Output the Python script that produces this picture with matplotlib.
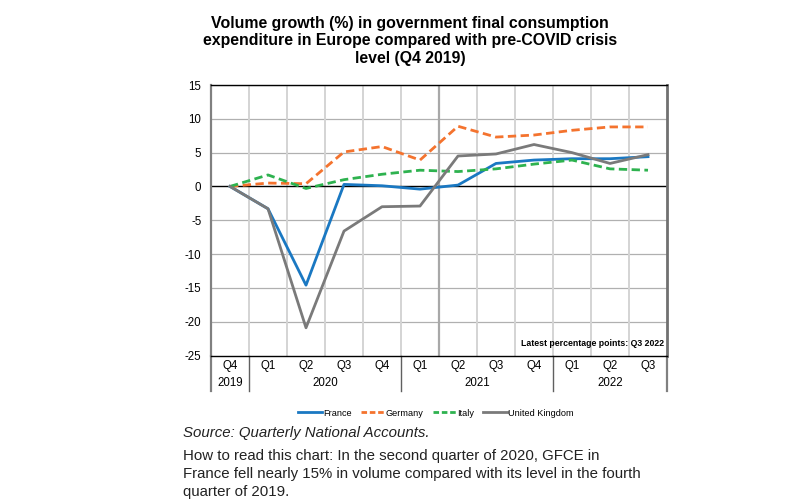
import numpy as np
import matplotlib
matplotlib.use('Agg')
import matplotlib.pyplot as plt
from matplotlib.lines import Line2D
from matplotlib import transforms

plt.rcParams['font.family'] = ['Liberation Sans', 'DejaVu Sans']
plt.rcParams['axes.unicode_minus'] = False

# data (% vs Q4 2019)
quarters = ['Q4', 'Q1', 'Q2', 'Q3', 'Q4', 'Q1', 'Q2', 'Q3', 'Q4', 'Q1', 'Q2', 'Q3']
years = ['2019', '2020', '2021', '2022']
year_span = [(0, 0), (1, 4), (5, 8), (9, 11)]
france = [0, -3.3, -14.6, 0.3, 0.1, -0.4, 0.2, 3.4, 3.9, 4.1, 4.1, 4.4]
germany = [0, 0.5, 0.4, 5.1, 5.9, 3.9, 8.9, 7.3, 7.6, 8.3, 8.8, 8.8]
italy = [0, 1.7, -0.3, 1.0, 1.8, 2.4, 2.2, 2.6, 3.3, 3.9, 2.6, 2.4]
uk = [0, -3.3, -20.9, -6.6, -3.0, -2.9, 4.5, 4.8, 6.2, 5.0, 3.4, 4.7]

W, H = 807, 504
fig = plt.figure(figsize=(W / 100, H / 100), dpi=100)
L, R, T, B = 211, 667, 85, 355.5
ax = fig.add_axes([L / W, 1 - B / H, (R - L) / W, (B - T) / H])

x = np.arange(len(quarters))
ax.set_xlim(-0.5, len(quarters) - 0.5)
ax.set_ylim(-25, 15)
ax.set_yticks(np.arange(-25, 16, 5))
ax.set_xticks([])
ax.tick_params(axis='y', length=0, labelsize=8.3, pad=7)

# grid
for v in np.arange(-20, 16, 5):
    if v != 0:
        ax.axhline(v, color='#b0b0b0', lw=0.9, zorder=0)
for i in range(len(quarters) - 1):
    ax.axvline(i + 0.5, color='#d4d4d4', lw=1.4, zorder=0)
ax.axvline(5.5, color='#a8a8a8', lw=1.6, zorder=0)
ax.axhline(0, color='black', lw=1.0, zorder=1)

for s in ['top', 'bottom']:
    ax.spines[s].set_color('black')
    ax.spines[s].set_linewidth(1.0)
ax.spines['left'].set_color('#808080')
ax.spines['left'].set_linewidth(1.6)
ax.spines['right'].set_color('#707070')
ax.spines['right'].set_linewidth(2.0)

lw = 2.0
ax.plot(x, france, color='#1a78c2', lw=lw, zorder=3)
ax.plot(x, germany, color='#f4732e', lw=lw, ls=(0, (3, 1.6)), zorder=3)
ax.plot(x, italy, color='#2eb24f', lw=lw, ls=(0, (3, 1.6)), zorder=3)
ax.plot(x, uk, color='#7a7a7a', lw=lw, zorder=3)

ax.text(11.42, -23.2, 'Latest percentage points: Q3 2022', ha='right', va='center',
        fontsize=6.3, fontweight='bold')

# category axis below the plot
tr = transforms.blended_transform_factory(ax.transData, ax.transAxes)
yq = -10.5 / (B - T)
yy = -28 / (B - T)
for i, q in enumerate(quarters):
    ax.text(i, yq, q, transform=tr, ha='center', va='center', fontsize=8.3)
for yr, (a, b) in zip(years, year_span):
    ax.text((a + b) / 2, yy, yr, transform=tr, ha='center', va='center', fontsize=8.3)
ybot = -35 / (B - T)
for xs in [-0.5, 0.5, 4.5, 8.5, 11.5]:
    col, w = ('#808080', 1.6) if xs in (-0.5, 11.5) else ('#606060', 1.0)
    ax.add_line(Line2D([xs, xs], [0, ybot], transform=tr, color=col, lw=w, clip_on=False))

fig.text(410 / W, 1 - 41 / H,
         'Volume growth (%) in government final consumption\n'
         'expenditure in Europe compared with pre-COVID crisis\nlevel (Q4 2019)',
         ha='center', va='center', fontsize=11.4, fontweight='bold', linespacing=1.2)

handles = [Line2D([], [], color='#1a78c2', lw=2),
           Line2D([], [], color='#f4732e', lw=2, ls=(0, (2, 1))),
           Line2D([], [], color='#2eb24f', lw=2, ls=(0, (2, 1))),
           Line2D([], [], color='#7a7a7a', lw=2)]
fig.legend(handles, ['France', 'Germany', 'Italy', 'United Kingdom'], ncol=4,
           loc='center', bbox_to_anchor=(436 / W, 1 - 413 / H), frameon=False,
           fontsize=6.6, handlelength=2.6, handletextpad=0.1, columnspacing=1.0)

fig.text(183 / W, 1 - 433 / H, 'Source: Quarterly National Accounts.', fontsize=10.8,
         style='italic', ha='left', va='center', color='#222222')
fig.text(183 / W, 1 - 474 / H,
         'How to read this chart: In the second quarter of 2020, GFCE in\n'
         'France fell nearly 15% in volume compared with its level in the fourth\n'
         'quarter of 2019.', fontsize=10.8, ha='left', va='center', linespacing=1.4,
         color='#222222')

fig.savefig('out.png', dpi=100)
